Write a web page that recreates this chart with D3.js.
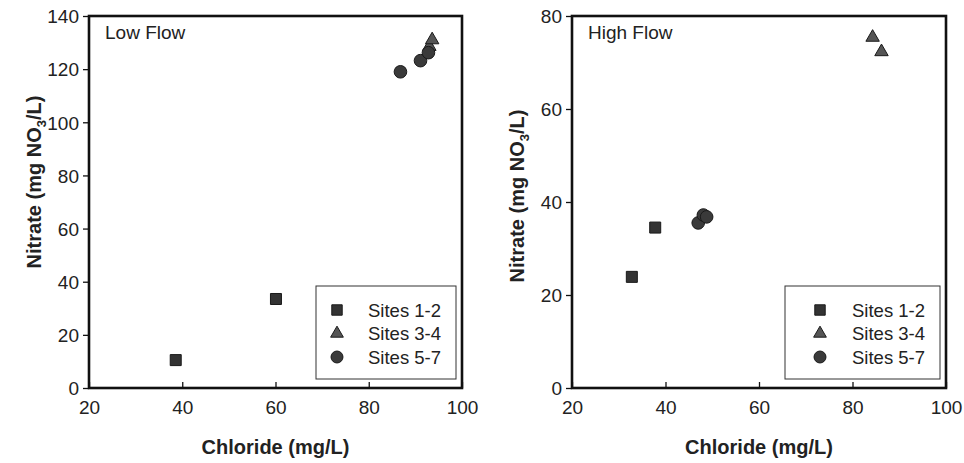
<!DOCTYPE html>
<html>
<head>
<meta charset="utf-8">
<script src="https://cdn.jsdelivr.net/npm/d3@7"></script>
<style>
  body { margin: 0; background: #fff; }
  svg { font-family: "Liberation Sans", Arial, sans-serif; }
  .axis-title { font-size: 20px; font-weight: bold; fill: #222; }
</style>
</head>
<body>
<svg width="964" height="463"></svg>
<script>
// series names, shared by both panels
const seriesNames = ['Sites 1-2', 'Sites 3-4', 'Sites 5-7'];

// Low Flow: [chloride, nitrate]
const lowSites12 = [[38.6, 10.5], [60.1, 33.5]];
const lowSites34 = [[93.0, 128.5], [93.6, 131.0]];
const lowSites57 = [[86.8, 119.0], [91.1, 123.2], [92.8, 126.2]];

// High Flow: [chloride, nitrate]
const highSites12 = [[32.8, 23.9], [37.8, 34.5]];
const highSites34 = [[84.3, 75.4], [86.2, 72.3]];
const highSites57 = [[47.0, 35.5], [48.1, 37.2], [48.8, 36.8]];

const xTicks = [20, 40, 60, 80, 100];
const lowYTicks = [0, 20, 40, 60, 80, 100, 120, 140];
const highYTicks = [0, 20, 40, 60, 80];

const svg = d3.select('svg');

const symbols = [d3.symbolSquare, d3.symbolTriangle, d3.symbolCircle];
const symSizes = [121, 78, 125];
const fills = ['#333', '#555', '#3a3a3a'];

function panel(opts) {
    const x = d3.scaleLinear().domain([20, 100]).range([opts.left, opts.right]);
    const y = d3.scaleLinear().domain([0, opts.yMax]).range([388, 16]);
    const g = svg.append('g');

    // frame
    g.append('rect')
        .attr('x', opts.left).attr('y', 16)
        .attr('width', opts.right - opts.left).attr('height', 372)
        .attr('fill', 'none').attr('stroke', '#111').attr('stroke-width', 2.6);

    // x axis, ticks pointing in
    const xa = g.append('g')
        .attr('transform', `translate(0,388)`)
        .call(d3.axisBottom(x).tickValues(xTicks).tickSize(-6).tickPadding(13));
    xa.attr('font-family', null).attr('font-size', null);
    xa.select('.domain').remove();
    xa.selectAll('.tick line').attr('stroke', '#111').attr('stroke-width', 1.3);
    xa.selectAll('.tick text').attr('font-size', 19).attr('fill', '#222');

    const ya = g.append('g')
        .attr('transform', `translate(${opts.left},0)`)
        .call(d3.axisLeft(y).tickValues(opts.yTicks).tickSize(6).tickPadding(4));
    ya.attr('font-family', null).attr('font-size', null);
    ya.select('.domain').remove();
    ya.selectAll('.tick line').attr('stroke', '#111').attr('stroke-width', 1.3);
    ya.selectAll('.tick text').attr('dy', '0.36em').attr('font-size', 19).attr('fill', '#222');

    // axis titles
    g.append('text').attr('class', 'axis-title')
        .attr('x', (opts.left + opts.right) / 2).attr('y', 454)
        .attr('text-anchor', 'middle')
        .text('Chloride (mg/L)');

    const yt = g.append('text').attr('class', 'axis-title')
        .attr('transform', `translate(${opts.left - 48},${opts.ty}) rotate(-90)`)
        .attr('text-anchor', 'middle');
    yt.append('tspan').text('Nitrate (mg NO');
    yt.append('tspan').attr('font-size', 13).attr('dy', 5).text('3');
    yt.append('tspan').attr('dy', -5).text('/L)');

    // panel title
    g.append('text')
        .attr('x', opts.left + 16).attr('y', 39)
        .attr('font-size', 19).attr('fill', '#222')
        .text(opts.title);

    // points
    opts.series.forEach((pts, i) => {
        g.selectAll(null).data(pts).enter().append('path')
            .attr('d', d3.symbol().type(symbols[i]).size(symSizes[i]))
            .attr('transform', d => `translate(${x(d[0])},${y(d[1])})`)
            .attr('fill', fills[i]).attr('stroke', '#1a1a1a').attr('stroke-width', 1);
    });

    // legend
    const lg = g.append('g');
    lg.append('rect')
        .attr('x', opts.lx).attr('y', 286)
        .attr('width', opts.lw).attr('height', 93)
        .attr('fill', '#fff').attr('stroke', '#333').attr('stroke-width', 1);
    seriesNames.forEach((name, i) => {
        const cy = 310 + i * 23.5;
        lg.append('path')
            .attr('d', d3.symbol().type(symbols[i]).size(symSizes[i] * 0.9))
            .attr('transform', `translate(${opts.lx + opts.sx},${cy})`)
            .attr('fill', fills[i]).attr('stroke', '#1a1a1a').attr('stroke-width', 1);
        lg.append('text')
            .attr('x', opts.lx + opts.tx).attr('y', cy + 6.5)
            .attr('font-size', 18.5).attr('fill', '#222')
            .text(name);
    });
}

panel({
    left: 89, right: 462, yMax: 140, yTicks: lowYTicks, title: 'Low Flow', ty: 182,
    series: [lowSites12, lowSites34, lowSites57], lx: 316, lw: 140, sx: 21, tx: 52
});

panel({
    left: 572, right: 946, yMax: 80, yTicks: highYTicks, title: 'High Flow', ty: 196,
    series: [highSites12, highSites34, highSites57], lx: 785, lw: 155, sx: 35, tx: 67
});
</script>
</body>
</html>
